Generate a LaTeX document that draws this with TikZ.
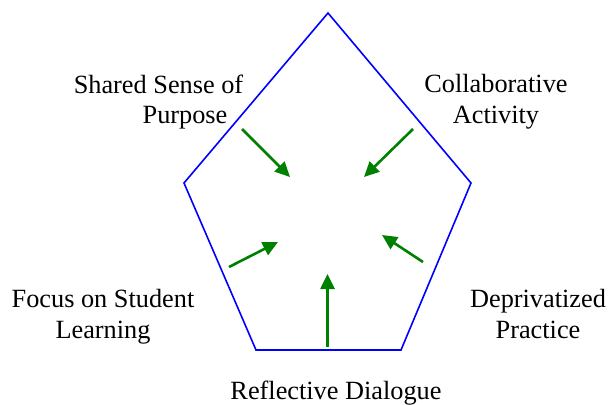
\documentclass[tikz,border=0pt]{standalone}
\usepackage{fontspec}
\setmainfont{Liberation Serif}
\usetikzlibrary{arrows.meta}
\begin{document}
\begin{tikzpicture}[x=1pt,y=-1pt]
      \tikzset{side/.style={blue,line width=1.6pt,line join=miter},
               push/.style={green!50!black,line width=2.6pt,-{Triangle[length=15pt,width=14pt]}},
               lbl/.style={font=\fontsize{26.3}{30.5}\selectfont,align=center,anchor=base,inner sep=0pt}}
      \useasboundingbox (0,0) rectangle (610,404);
      % pentagon
      \coordinate (top) at (328,13);
      \coordinate (right) at (471,183);
      \coordinate (botright) at (401,350);
      \coordinate (botleft) at (256,350);
      \coordinate (left) at (184,183);
      \draw[side] (top)--(right)--(botright)--(botleft)--(left)--cycle;
      % arrows
      \coordinate (purposeA) at (242,129);   \coordinate (purposeB) at (290,177);
      \coordinate (collabA) at (413,129);    \coordinate (collabB) at (364,177);
      \coordinate (focusA) at (229,267);     \coordinate (focusB) at (278,242);
      \coordinate (practiceA) at (423,262);  \coordinate (practiceB) at (382,235);
      \coordinate (dialogA) at (327.5,347);  \coordinate (dialogB) at (327.5,274);
      \draw[push] (purposeA)--(purposeB);
      \draw[push] (collabA)--(collabB);
      \draw[push] (focusA)--(focusB);
      \draw[push] (practiceA)--(practiceB);
      \draw[push] (dialogA)--(dialogB);
      % labels (base = last line)
      \node[lbl] (shared) at (158.5,93) {Shared Sense of};
      \node[lbl] (purpose) at (185,123) {Purpose};
      \node[lbl] (collab) at (496,123) {Collaborative\\Activity};
      \node[lbl] (focus) at (103,338) {Focus on Student\\Learning};
      \node[lbl] (practice) at (538,338) {Deprivatized\\Practice};
      \node[lbl] (dialog) at (336,399) {Reflective Dialogue};
\end{tikzpicture}
\end{document}
